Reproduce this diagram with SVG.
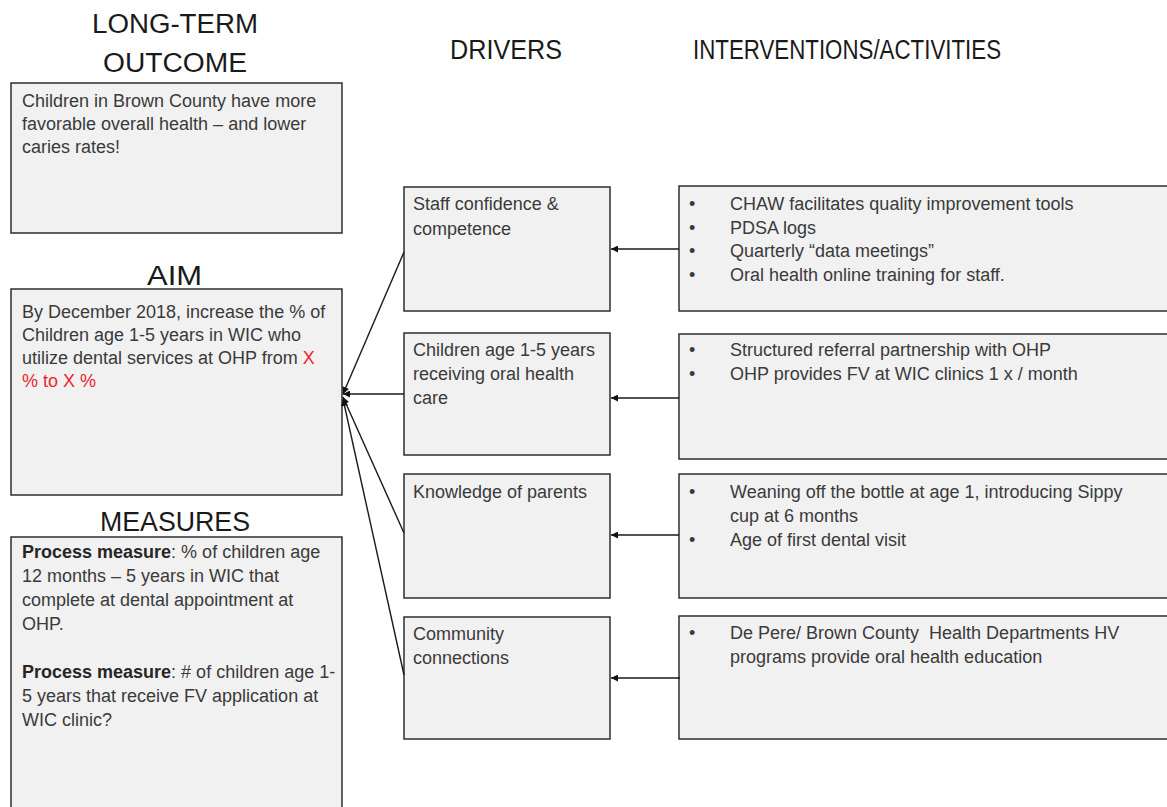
<svg xmlns="http://www.w3.org/2000/svg" width="1167" height="807" viewBox="0 0 1167 807">
<style>
.bg{fill:#ffffff}
.box{fill:#f1f1f1;stroke:#2e2e2e;stroke-width:1.5}
.h{font-family:"Liberation Sans",Arial,sans-serif;font-size:27px;fill:#1a1a1a}
.t{font-family:"Liberation Sans",Arial,sans-serif;font-size:18px;fill:#3a3a3a}
.b{font-weight:bold;fill:#262626}
.red{fill:#e8262a}
.conn line{stroke:#1a1a1a;stroke-width:1.4;fill:none}
</style>
<defs>
<marker id="ah" viewBox="0 0 10 10" refX="10" refY="5" markerWidth="10" markerHeight="7" markerUnits="userSpaceOnUse" orient="auto">
<path d="M0,0 L10,5 L0,10 z" fill="#111"/>
</marker>
</defs>
<rect class="bg" x="0" y="0" width="1167" height="807"/>

<g id="headings">
<text class="h" x="92" y="33" textLength="166" lengthAdjust="spacingAndGlyphs">LONG-TERM</text>
<text class="h" x="103" y="72" textLength="144" lengthAdjust="spacingAndGlyphs">OUTCOME</text>
<text class="h" x="147" y="285" textLength="55" lengthAdjust="spacingAndGlyphs">AIM</text>
<text class="h" x="100" y="531" textLength="150" lengthAdjust="spacingAndGlyphs">MEASURES</text>
<text class="h" x="450" y="59" textLength="112" lengthAdjust="spacingAndGlyphs">DRIVERS</text>
<text class="h" x="693" y="59" textLength="308" lengthAdjust="spacingAndGlyphs">INTERVENTIONS/ACTIVITIES</text>
</g>

<g id="outcome">
<rect class="box" x="11" y="83" width="331" height="150"/>
<text class="t" x="22" y="107">Children in Brown County have more</text>
<text class="t" x="22" y="130">favorable overall health – and lower</text>
<text class="t" x="22" y="153">caries rates!</text>
</g>

<g id="aim">
<rect class="box" x="11" y="289" width="331" height="206"/>
<text class="t" x="22" y="318">By December 2018, increase the % of</text>
<text class="t" x="22" y="341">Children age 1-5 years in WIC who</text>
<text class="t" x="22" y="364">utilize dental services at OHP from <tspan class="red">X</tspan></text>
<text class="t red" x="22" y="387">% to X %</text>
</g>

<g id="measures">
<rect class="box" x="11" y="537" width="331" height="280"/>
<text class="t" x="22" y="558"><tspan class="b">Process measure</tspan>: % of children age</text>
<text class="t" x="22" y="582">12 months – 5 years in WIC that</text>
<text class="t" x="22" y="606">complete at dental appointment at</text>
<text class="t" x="22" y="630">OHP.</text>
<text class="t" x="22" y="678"><tspan class="b">Process measure</tspan>: # of children age 1-</text>
<text class="t" x="22" y="702">5 years that receive FV application at</text>
<text class="t" x="22" y="726">WIC clinic?</text>
</g>

<g id="driver-staff">
<rect class="box" x="404" y="187" width="206" height="124"/>
<text class="t" x="413" y="210">Staff confidence &amp;</text>
<text class="t" x="413" y="235">competence</text>
</g>
<g id="driver-children">
<rect class="box" x="404" y="333" width="206" height="122"/>
<text class="t" x="413" y="356">Children age 1-5 years</text>
<text class="t" x="413" y="380">receiving oral health</text>
<text class="t" x="413" y="404">care</text>
</g>
<g id="driver-knowledge">
<rect class="box" x="404" y="474" width="206" height="124"/>
<text class="t" x="413" y="498">Knowledge of parents</text>
</g>
<g id="driver-community">
<rect class="box" x="404" y="617" width="206" height="122"/>
<text class="t" x="413" y="640">Community</text>
<text class="t" x="413" y="664">connections</text>
</g>

<g id="int-staff">
<rect class="box" x="679" y="186" width="500" height="125"/>
<text class="t" x="689" y="210">•</text><text class="t" x="730" y="210">CHAW facilitates quality improvement tools</text>
<text class="t" x="689" y="234">•</text><text class="t" x="730" y="234">PDSA logs</text>
<text class="t" x="689" y="257">•</text><text class="t" x="730" y="257">Quarterly “data meetings”</text>
<text class="t" x="689" y="281">•</text><text class="t" x="730" y="281">Oral health online training for staff.</text>
</g>
<g id="int-children">
<rect class="box" x="679" y="334" width="500" height="125"/>
<text class="t" x="689" y="356">•</text><text class="t" x="730" y="356">Structured referral partnership with OHP</text>
<text class="t" x="689" y="380">•</text><text class="t" x="730" y="380">OHP provides FV at WIC clinics 1 x / month</text>
</g>
<g id="int-knowledge">
<rect class="box" x="679" y="474" width="500" height="124"/>
<text class="t" x="689" y="498">•</text><text class="t" x="730" y="498">Weaning off the bottle at age 1, introducing Sippy</text>
<text class="t" x="730" y="522">cup at 6 months</text>
<text class="t" x="689" y="546">•</text><text class="t" x="730" y="546">Age of first dental visit</text>
</g>
<g id="int-community">
<rect class="box" x="679" y="616" width="500" height="123"/>
<text class="t" x="689" y="639">•</text><text class="t" x="730" y="639">De Pere/ Brown County &#160;Health Departments HV</text>
<text class="t" x="730" y="663">programs provide oral health education</text>
</g>

<g id="connectors" class="conn">
<line x1="679" y1="249" x2="611" y2="249" marker-end="url(#ah)"/>
<line x1="679" y1="398" x2="611" y2="398" marker-end="url(#ah)"/>
<line x1="679" y1="535" x2="611" y2="535" marker-end="url(#ah)"/>
<line x1="680" y1="678" x2="611" y2="678" marker-end="url(#ah)"/>
<line x1="404" y1="252" x2="343" y2="394" marker-end="url(#ah)"/>
<line x1="404" y1="394" x2="343" y2="394" marker-end="url(#ah)"/>
<line x1="404" y1="533" x2="343" y2="397" marker-end="url(#ah)"/>
<line x1="404" y1="675" x2="343" y2="399" marker-end="url(#ah)"/>
</g>
</svg>
